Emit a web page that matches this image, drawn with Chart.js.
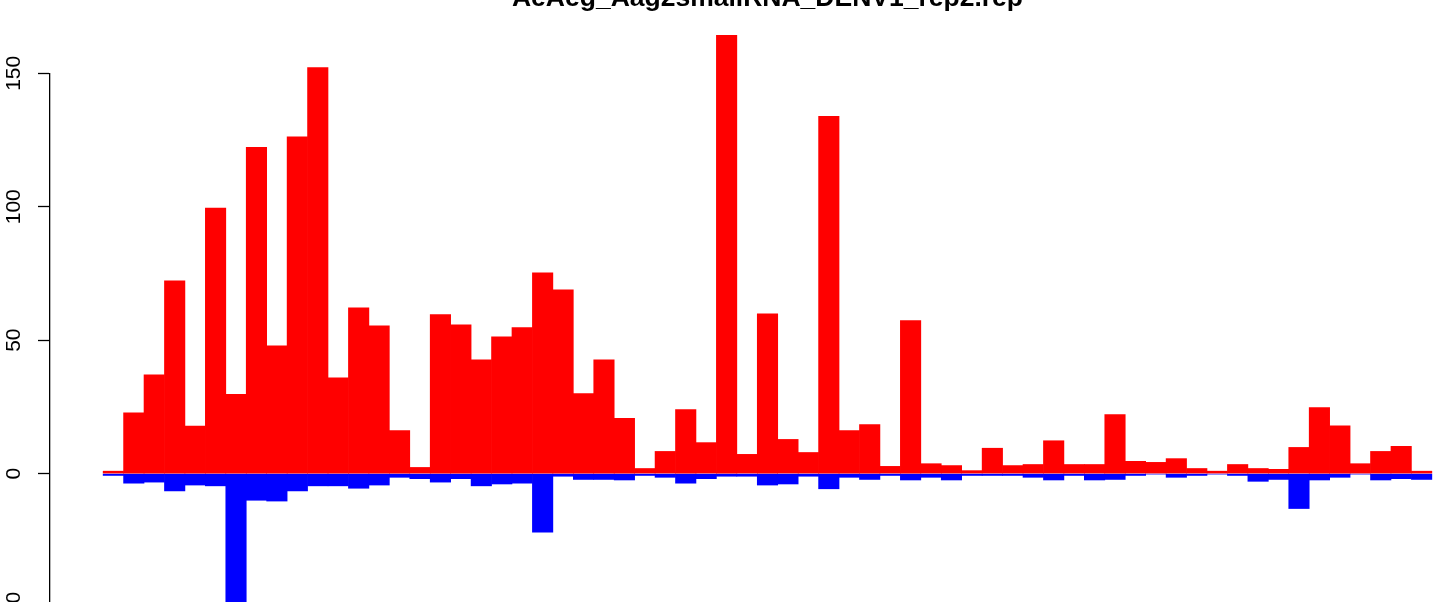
<!DOCTYPE html>
<html>
<head>
<meta charset="utf-8">
<script src="https://cdn.jsdelivr.net/npm/chart.js@4"></script>
<style>
  html, body { margin: 0; padding: 0; background: #fff; overflow: hidden; width: 1444px; height: 602px; }
  #wrap { position: absolute; left: 0; top: -27px; width: 1485px; height: 634px; }
</style>
</head>
<body>
<div id="wrap"><canvas id="chart"></canvas></div>
<script>
// values, one entry per bar
const senseReads = [0.9, 22.8, 37, 72.2, 17.8, 99.5, 29.7, 122.3, 47.9, 126.2,
    152.1, 35.9, 62.1, 55.4, 16.1, 2.3, 59.6, 55.7, 42.6, 51.2,
    54.7, 75.2, 68.9, 30, 42.6, 20.7, 1.9, 8.3, 24, 11.6,
    164.2, 7.2, 59.9, 12.8, 7.9, 133.9, 16.1, 18.4, 2.7, 57.3,
    3.7, 3, 1.1, 9.5, 3, 3.4, 12.3, 3.4, 3.4, 22.1,
    4.6, 4.2, 5.6, 1.9, 0.9, 3.4, 1.9, 1.6, 9.8, 24.7,
    17.9, 3.7, 8.3, 10.2, 0.9];
const antisenseReads = [-0.7, -3.6, -3.2, -6.5, -4.3, -4.6, -55, -10, -10.3, -6.5,
    -4.6, -4.6, -5.5, -4.3, -1.4, -1.9, -3.2, -1.9, -4.6, -3.9,
    -3.6, -22, -1, -2.2, -2.2, -2.4, -0.7, -1.4, -3.6, -1.9,
    -1, -1, -4.3, -3.9, -1, -5.7, -1.4, -2.2, -0.7, -2.4,
    -1.4, -2.4, -0.7, -0.7, -0.7, -1.4, -2.4, -0.7, -2.4, -2.2,
    -0.7, -0.2, -1.4, -0.7, -0.2, -0.7, -2.9, -2.2, -13.1, -2.4,
    -1.4, -0.2, -2.4, -1.9, -2.2];
const yTicks = [-50, 0, 50, 100, 150];
const chartTitle = 'AeAeg_Aag2smallRNA_DENV1_rep2.rep';

// bar i sits in the slot [i, i+1] like R's barplot(space = 0)
const barPos = senseReads.map((v, i) => i + 0.5);

// R draws the axis labels turned by 90 degrees
const rotatedTicks = {
    id: 'rotatedTicks',
    afterDraw(chart) {
        const y = chart.scales.y;
        const ctx = chart.ctx;
        ctx.save();
        ctx.fillStyle = '#000';
        ctx.font = '21px "Liberation Sans", Arial, sans-serif';
        ctx.textAlign = 'center';
        ctx.textBaseline = 'middle';
        yTicks.forEach(v => {
            ctx.save();
            ctx.translate(14, y.getPixelForValue(v));
            ctx.rotate(-Math.PI / 2);
            ctx.fillText(String(v), 0, 0);
            ctx.restore();
        });
        ctx.restore();
    }
};

const ctx = document.getElementById('chart').getContext('2d');
const chart = new Chart(ctx, {
    type: 'bar',
    data: {
        datasets: [
            {
                label: 'sense',
                data: barPos.map((x, i) => ({ x: x, y: senseReads[i] })),
                backgroundColor: '#ff0000',
                borderWidth: 0,
                barPercentage: 1,
                categoryPercentage: 1,
                clip: false
            },
            {
                label: 'antisense',
                data: barPos.map((x, i) => ({ x: x, y: antisenseReads[i] })),
                backgroundColor: '#0000ff',
                borderWidth: 0,
                barPercentage: 1,
                categoryPercentage: 1,
                clip: false
            }
        ]
    },
    options: {
        responsive: true,
        maintainAspectRatio: false,
        animation: false,
        devicePixelRatio: 1,
        layout: { padding: 0 },
        plugins: {
            legend: { display: false },
            tooltip: { enabled: false },
            title: {
                display: true,
                text: chartTitle,
                fullSize: false,
                color: '#000',
                font: { family: '"Liberation Sans", Arial, sans-serif', size: 26.5, weight: 'bold' },
                padding: { top: 10, bottom: 58.5 }
            }
        },
        scales: {
            x: {
                type: 'linear',
                min: -2.6,
                max: 67.6,
                offset: false,
                stacked: true,
                display: false
            },
            y: {
                min: -50,
                max: 150,
                stacked: true,
                afterBuildTicks: (scale) => { scale.ticks = yTicks.map(v => ({ value: v })); },
                afterFit: (scale) => { scale.width = 50; },
                ticks: { display: false },
                grid: {
                    drawOnChartArea: false,
                    drawTicks: true,
                    tickLength: 12,
                    tickWidth: 1.3,
                    tickColor: '#000'
                },
                border: { display: true, color: '#000', width: 1.3 }
            }
        }
    },
    plugins: [rotatedTicks]
});
</script>
</body>
</html>
